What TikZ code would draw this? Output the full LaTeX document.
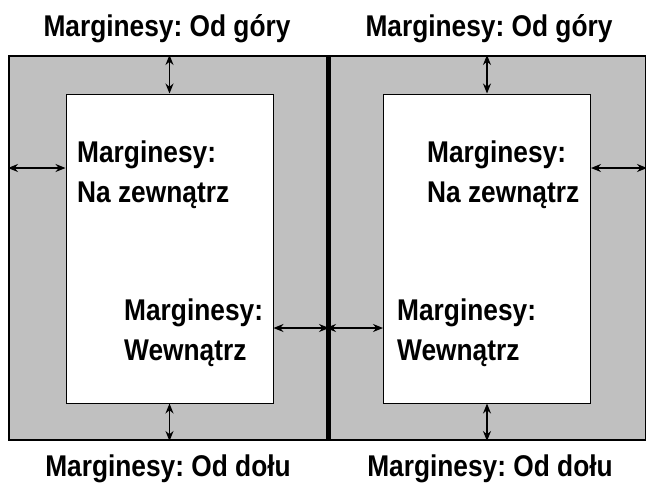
\documentclass[tikz,border=0pt]{standalone}
\usepackage{fontspec}
\setmainfont{Liberation Sans}
\usetikzlibrary{arrows.meta}
\newcommand{\tallt}[1]{\scalebox{1}[1.14]{#1}}
\begin{document}
\frenchspacing
\begin{tikzpicture}[x=1pt,y=-1pt,
  page/.style={draw=black, fill=pagegray, line width=2pt, inner sep=0pt, minimum width=319pt, minimum height=384pt},
  sheet/.style={draw=black, fill=white, line width=1pt, inner sep=0pt, minimum width=207pt, minimum height=309pt},
  arr/.style={{Stealth[length=10pt,width=8pt]}-{Stealth[length=10pt,width=8pt]}, line width=1.3pt},
  lbl/.style={font=\fontsize{26.3}{40}\selectfont\bfseries, inner sep=0pt, anchor=base},
  inlbl/.style={lbl, anchor=base west}]
\definecolor{pagegray}{HTML}{C0C0C0}
\useasboundingbox[fill=white] (0,0) rectangle (646,483);
\node[page] (Lpage) at (168.5,248) {};
\node[page] (Rpage) at (486.5,248) {};
\draw[line width=3pt] (Lpage.north east) -- (Lpage.south east);
\node[sheet] (Lsheet) at (169.5,248.5) {};
\node[sheet] (Rsheet) at (487,248.5) {};
% arrows
\coordinate (lyo) at (0,168);
\coordinate (lyi) at (0,328);
\draw[arr] (Lsheet.north) -- (Lsheet.north |- Lpage.north);
\draw[arr] (Lsheet.south) -- (Lsheet.south |- Lpage.south);
\draw[arr] (Rsheet.north) -- (Rsheet.north |- Rpage.north);
\draw[arr] (Rsheet.south) -- (Rsheet.south |- Rpage.south);
\draw[arr] (Lsheet.west |- lyo) -- (Lpage.west |- lyo);
\draw[arr] (Rsheet.east |- lyo) -- (Rpage.east |- lyo);
\draw[arr] (Lsheet.east |- lyi) -- (Lpage.east |- lyi);
\draw[arr] (Rsheet.west |- lyi) -- (Rpage.west |- lyi);
% labels
\node[lbl] (tL) at (167,36) {\tallt{Marginesy: Od góry}};
\node[lbl] (tR) at (489,36) {\tallt{Marginesy: Od góry}};
\node[lbl] (bL) at (168,476) {\tallt{Marginesy: Od dołu}};
\node[lbl] (bR) at (490,476) {\tallt{Marginesy: Od dołu}};
\node[inlbl] (oL1) at (77,162) {\tallt{Marginesy:}};
\node[inlbl] (oL2) at (77,202) {\tallt{Na zewnątrz}};
\node[inlbl] (oR1) at (427,162) {\tallt{Marginesy:}};
\node[inlbl] (oR2) at (427,202) {\tallt{Na zewnątrz}};
\node[inlbl] (iL1) at (124,320) {\tallt{Marginesy:}};
\node[inlbl] (iL2) at (124,360) {\tallt{Wewnątrz}};
\node[inlbl] (iR1) at (397,320) {\tallt{Marginesy:}};
\node[inlbl] (iR2) at (397,360) {\tallt{Wewnątrz}};
\end{tikzpicture}
\end{document}
